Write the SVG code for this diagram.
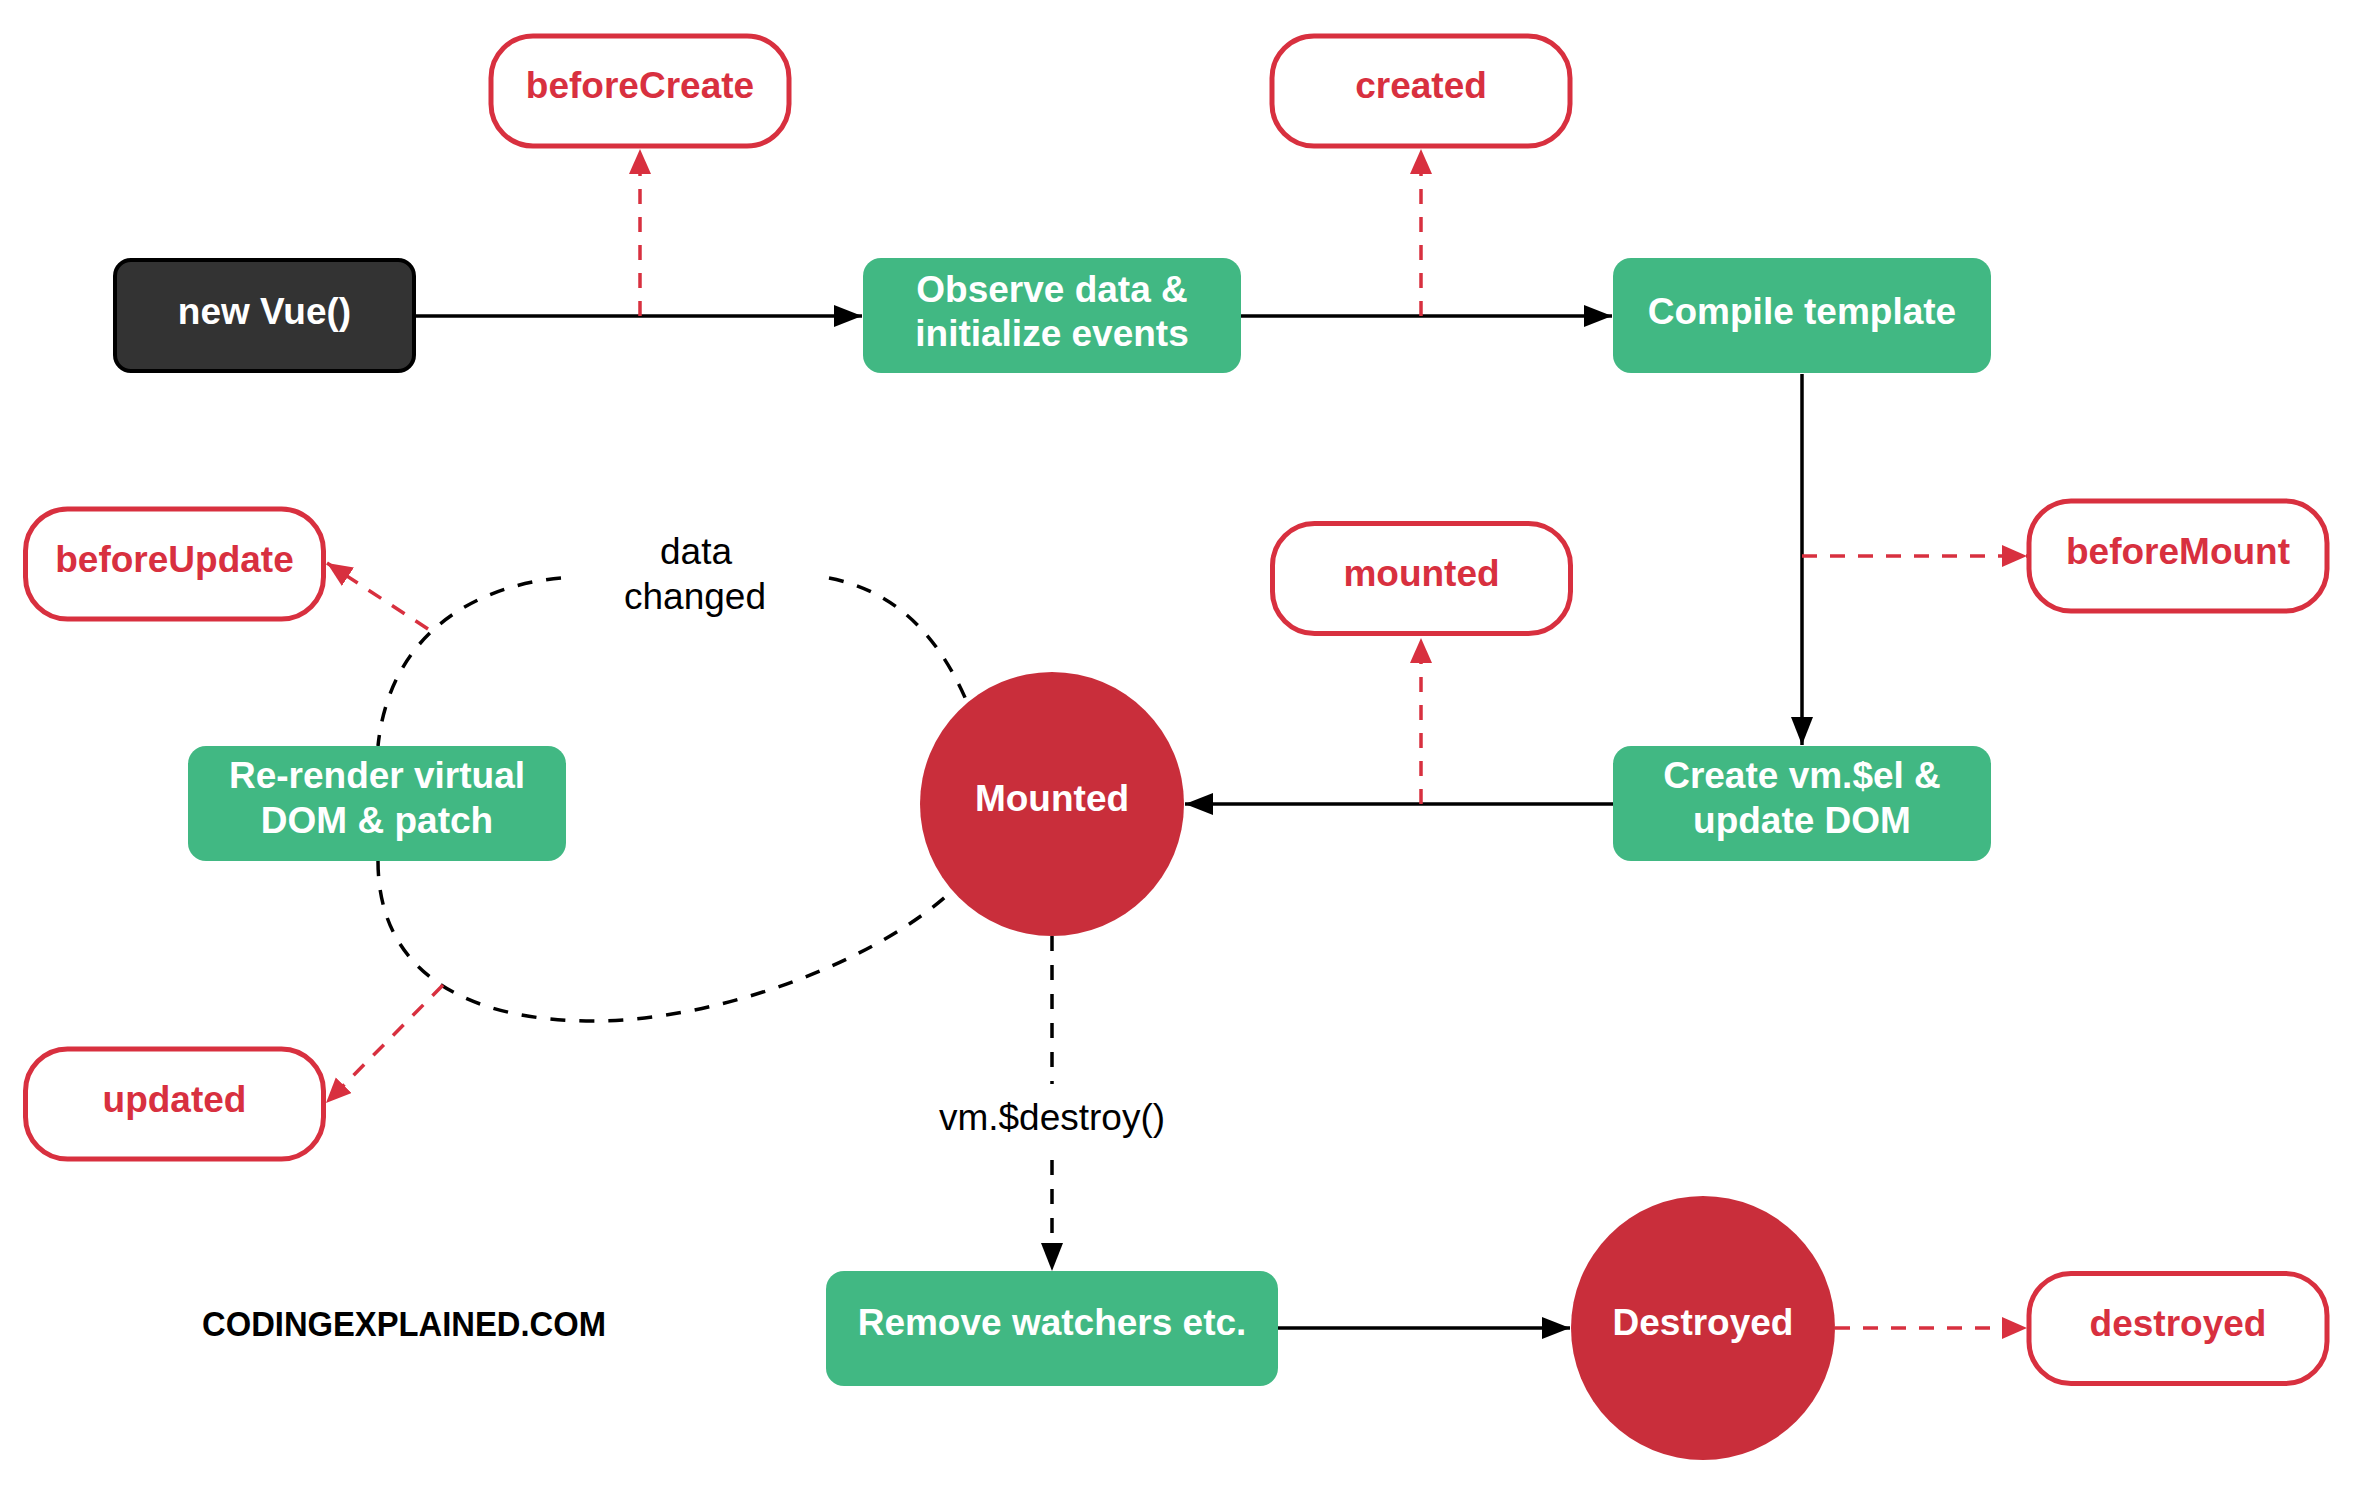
<svg xmlns="http://www.w3.org/2000/svg" width="2353" height="1485" viewBox="0 0 2353 1485">
<style>
text{font-family:"Liberation Sans",Arial,sans-serif;font-size:37px;text-anchor:middle}
.b{font-weight:bold}
.w{fill:#ffffff;font-weight:bold}
.hk{fill:#ffffff;stroke:#d8303f;stroke-width:5}
.hkt{fill:#d8303f;font-weight:bold}
.gr{fill:#41b883}
.circ{fill:#c92e3b}
.solid{fill:none;stroke:#000;stroke-width:3.5}
.bdash{fill:none;stroke:#000;stroke-width:3.5;stroke-dasharray:15 14}
.rdash{fill:none;stroke:#d8303f;stroke-width:3.5;stroke-dasharray:15 13}
</style>
<defs>
<marker id="ab" markerUnits="userSpaceOnUse" markerWidth="30" markerHeight="24" refX="28" refY="11" orient="auto"><path d="M0,0 L28,11 L0,22 z" fill="#000"/></marker>
<marker id="ar" markerUnits="userSpaceOnUse" markerWidth="27" markerHeight="24" refX="25" refY="11" orient="auto"><path d="M0,0 L25,11 L0,22 z" fill="#d8303f"/></marker>
</defs>
<rect width="2353" height="1485" fill="#ffffff"/>
<g id="connectors">
<path class="solid" d="M416 316 H862" marker-end="url(#ab)"/>
<path class="rdash" d="M640 316 V149" marker-end="url(#ar)"/>
<path class="solid" d="M1241 316 H1612" marker-end="url(#ab)"/>
<path class="rdash" d="M1421 316 V149" marker-end="url(#ar)"/>
<path class="solid" d="M1802 374 V745" marker-end="url(#ab)"/>
<path class="rdash" d="M1802 556 H2027" marker-end="url(#ar)"/>
<path class="solid" d="M1613 804 H1185" marker-end="url(#ab)"/>
<path class="rdash" d="M1421 804 V638" marker-end="url(#ar)"/>
<path class="bdash" d="M1052 936 V1084 M1052 1160 V1271" marker-end="url(#ab)"/>
<path class="solid" d="M1278 1328 H1570" marker-end="url(#ab)"/>
<path class="rdash" d="M1835 1328 H2027" marker-end="url(#ar)"/>
<path class="bdash" d="M829 578 C900 592 940 640 967 702 M561 578 C480 585 390 630 378 746 M378 861 C378 975 470 1021 593 1021 C720 1021 880 960 955 888"/>
<path class="rdash" d="M428 629 L327 563" marker-end="url(#ar)"/>
<path class="rdash" d="M443 985 L326 1103" marker-end="url(#ar)"/>
<text x="696" y="564">data</text>
<text x="695" y="609">changed</text>
<text x="1052" y="1130">vm.$destroy()</text>
</g>
<g id="new-vue"><rect x="115" y="260" width="299" height="111" rx="16" fill="#333333" stroke="#000" stroke-width="4"/><text class="w" x="264.5" y="324">new Vue()</text></g>
<g id="before-create"><rect class="hk" x="491" y="36" width="298" height="110" rx="42"/><text class="hkt" x="640" y="98">beforeCreate</text></g>
<g id="observe"><rect class="gr" x="863" y="258" width="378" height="115" rx="18"/><text class="w" x="1052" y="302">Observe data &amp;</text><text class="w" x="1052" y="346">initialize events</text></g>
<g id="created"><rect class="hk" x="1272" y="36" width="298" height="110" rx="42"/><text class="hkt" x="1421" y="98">created</text></g>
<g id="compile"><rect class="gr" x="1613" y="258" width="378" height="115" rx="18"/><text class="w" x="1802" y="324">Compile template</text></g>
<g id="before-mount"><rect class="hk" x="2029" y="501" width="298" height="110" rx="42"/><text class="hkt" x="2178" y="564">beforeMount</text></g>
<g id="create-el"><rect class="gr" x="1613" y="746" width="378" height="115" rx="18"/><text class="w" x="1802" y="788">Create vm.$el &amp;</text><text class="w" x="1802" y="833">update DOM</text></g>
<g id="mounted-hook"><rect class="hk" x="1272.5" y="523.5" width="298" height="110" rx="42"/><text class="hkt" x="1421.5" y="586">mounted</text></g>
<g id="mounted"><circle class="circ" cx="1052" cy="804" r="132"/><text class="w" x="1052" y="811">Mounted</text></g>
<g id="rerender"><rect class="gr" x="188" y="746" width="378" height="115" rx="18"/><text class="w" x="377" y="788">Re-render virtual</text><text class="w" x="377" y="833">DOM &amp; patch</text></g>
<g id="before-update"><rect class="hk" x="25.5" y="509" width="298" height="110" rx="42"/><text class="hkt" x="174.5" y="572">beforeUpdate</text></g>
<g id="updated"><rect class="hk" x="25.5" y="1049" width="298" height="110" rx="42"/><text class="hkt" x="174.5" y="1112">updated</text></g>
<g id="remove-watchers"><rect class="gr" x="826" y="1271" width="452" height="115" rx="18"/><text class="w" x="1052" y="1335">Remove watchers etc.</text></g>
<g id="destroyed"><circle class="circ" cx="1703" cy="1328" r="132"/><text class="w" x="1703" y="1335">Destroyed</text></g>
<g id="destroyed-hook"><rect class="hk" x="2029" y="1273.5" width="298" height="110" rx="42"/><text class="hkt" x="2178" y="1336">destroyed</text></g>
<text x="202" y="1336" style="text-anchor:start;font-family:'Liberation Sans Narrow','Liberation Sans',sans-serif;font-weight:bold;font-size:35px" textLength="404" lengthAdjust="spacingAndGlyphs">CODINGEXPLAINED.COM</text>
</svg>
